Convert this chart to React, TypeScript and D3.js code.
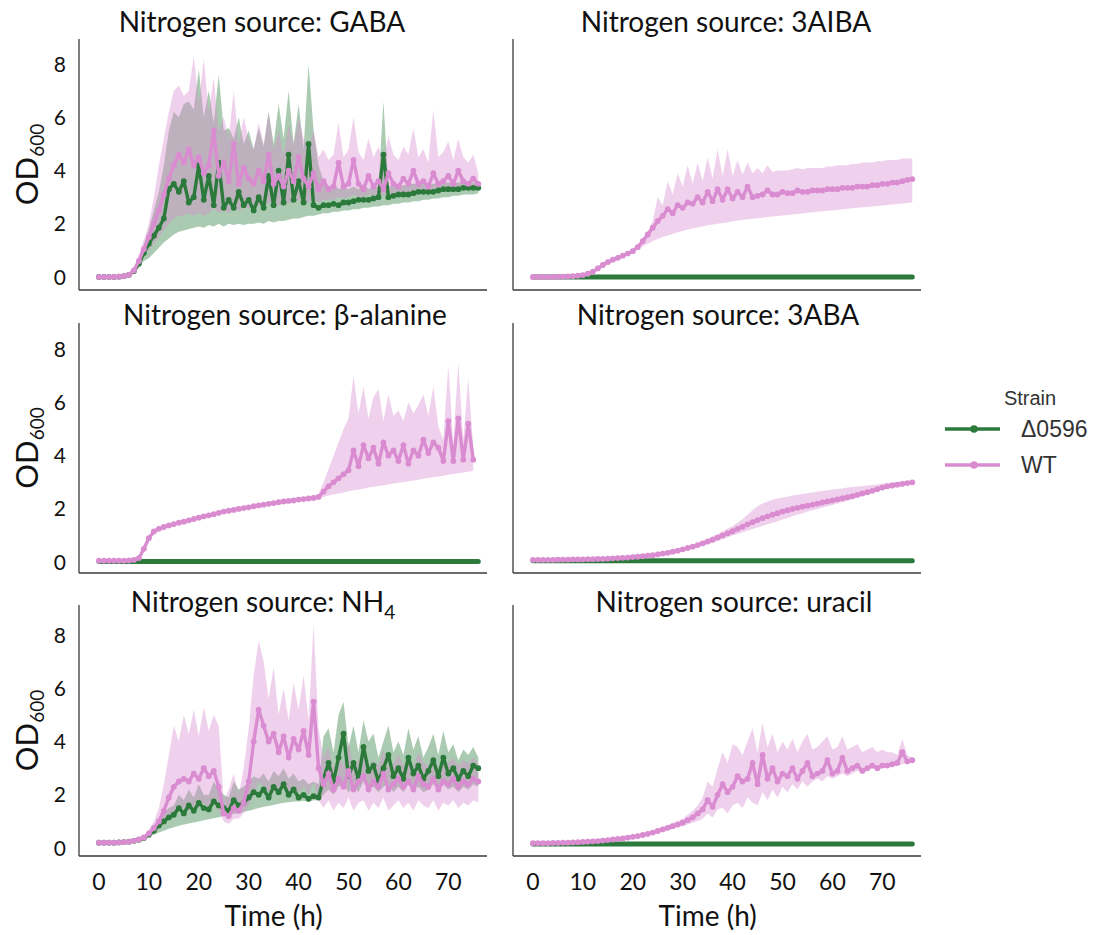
import React from "react";
import * as d3 from "d3";

// ---------- data ----------
const HOURS = [
  0, 1, 2, 3, 4, 5, 6, 7, 8, 9, 10, 11, 12, 13, 14, 15, 16, 17, 18, 19, 20, 21, 22, 23, 24, 25, 26, 27, 28, 29,
  30, 31, 32, 33, 34, 35, 36, 37, 38, 39, 40, 41, 42, 43, 44, 45, 46, 47, 48, 49, 50, 51, 52, 53, 54, 55, 56, 57,
  58, 59, 60, 61, 62, 63, 64, 65, 66, 67, 68, 69, 70, 71, 72, 73, 74, 75, 76,
];
const FLAT_HOURS = [0, 8, 16, 24, 32, 40, 48, 56, 64, 72, 76];

const STRAINS = ["Δ0596", "WT"];
const X_TICKS = [0, 10, 20, 30, 40, 50, 60, 70];
const Y_TICKS = [0, 2, 4, 6, 8];

// GABA
const GABA_WT_MEAN = [
  0.0, 0.0, 0.0, 0.0, 0.01, 0.03, 0.08, 0.25, 0.6, 1.05,
  1.5, 2.0, 2.5, 3.1, 3.7, 4.2, 4.6, 4.3, 4.8, 4.2,
  4.5, 3.9, 4.2, 5.5, 3.8, 4.3, 3.6, 5.0, 3.5, 4.1,
  3.7, 3.5, 4.0, 3.6, 4.6, 3.5, 3.8, 3.4, 4.0, 3.6,
  4.5, 3.7, 3.4, 3.9, 3.3, 3.6, 3.3, 3.4, 4.3, 3.4,
  3.5, 4.4, 3.5, 3.3, 3.8, 3.4, 3.6, 3.3, 3.9, 3.5,
  3.4, 3.7, 3.5, 4.0, 3.5, 3.6, 3.4, 3.9, 3.5, 3.6,
  3.8, 3.5, 4.0, 3.6, 3.5, 3.7, 3.5,
];
const GABA_WT_HI = [
  0.03, 0.03, 0.03, 0.03, 0.04, 0.06, 0.12, 0.35, 0.85, 1.4,
  2.0, 3.0, 4.2, 5.2, 6.2, 7.0, 7.2, 6.8, 7.0, 8.3,
  6.5, 8.2, 6.2, 7.5, 5.5, 6.0, 5.2, 7.0, 5.0, 6.0,
  5.2, 4.8, 5.8, 5.0, 6.2, 4.8, 5.5, 4.6, 5.7, 5.0,
  6.0, 5.2, 4.8, 5.5, 4.5, 4.8, 4.4, 4.6, 5.8, 4.5,
  4.8, 6.0, 4.7, 4.4, 5.2, 4.5, 4.9, 4.3, 5.3, 4.6,
  4.4, 4.9, 4.6, 5.6, 4.5, 4.8, 4.3, 6.3, 4.5, 4.7,
  5.1, 4.4, 5.2, 4.5, 4.3, 4.6, 3.9,
];
const GABA_WT_LO = [
  -0.03, -0.03, -0.03, -0.03, -0.02, 0.0, 0.05, 0.18, 0.45, 0.8,
  1.0, 1.25, 1.5, 1.75, 2.0, 2.2, 2.3, 2.3, 2.4, 2.3,
  2.4, 2.3, 2.4, 2.6, 2.4, 2.5, 2.4, 2.6, 2.5, 2.6,
  2.6, 2.6, 2.7, 2.6, 2.8, 2.7, 2.7, 2.7, 2.8, 2.8,
  2.9, 2.8, 2.8, 2.9, 2.8, 2.9, 2.9, 2.9, 3.0, 2.95,
  3.0, 3.1, 3.0, 3.0, 3.1, 3.05, 3.1, 3.05, 3.15, 3.1,
  3.1, 3.2, 3.15, 3.2, 3.2, 3.2, 3.2, 3.3, 3.25, 3.3,
  3.3, 3.3, 3.35, 3.35, 3.3, 3.4, 3.35,
];
const GABA_D_MEAN = [
  0.0, 0.0, 0.0, 0.0, 0.01, 0.03, 0.08, 0.22, 0.5, 0.9,
  1.25, 1.55, 1.85, 2.2, 3.3, 3.5, 3.2, 3.6, 2.8, 3.0,
  4.2, 2.9, 3.8, 2.7, 4.3, 2.6, 2.9, 2.6, 3.2, 2.7,
  2.9, 2.5, 3.0, 2.6, 3.8, 2.7, 4.0, 2.8, 4.6, 2.9,
  3.6, 2.8, 5.0, 2.7, 2.6, 2.7, 2.7, 2.75, 2.7, 2.8,
  2.8, 2.85, 2.9, 2.9, 2.9, 2.95, 3.0, 4.6, 3.0, 3.05,
  3.1, 3.1, 3.1, 3.15, 3.2, 3.2, 3.2, 3.2, 3.25, 3.3,
  3.3, 3.3, 3.3, 3.35, 3.35, 3.35, 3.35,
];
const GABA_D_HI = [
  0.03, 0.03, 0.03, 0.03, 0.04, 0.06, 0.12, 0.3, 0.7, 1.2,
  1.8, 2.5, 3.2, 4.2, 5.5, 6.2, 6.0, 6.5, 6.6, 6.3,
  7.8, 6.0, 7.0, 5.8, 7.6, 5.5, 5.6, 5.2, 6.0, 5.0,
  5.5, 4.8, 5.6, 4.9, 6.2, 5.0, 6.5, 5.2, 7.0, 5.0,
  6.5, 4.8, 8.0, 5.5, 4.2, 3.6, 3.4, 3.5, 3.3, 3.4,
  3.3, 3.4, 3.3, 3.5, 3.3, 3.4, 3.4, 6.6, 3.4, 3.45,
  3.45, 3.45, 3.45, 3.5, 3.5, 3.5, 3.5, 3.5, 3.5, 3.55,
  3.55, 3.55, 3.55, 3.55, 3.55, 3.55, 3.55,
];
const GABA_D_LO = [
  -0.03, -0.03, -0.03, -0.03, -0.02, 0.0, 0.04, 0.15, 0.35, 0.6,
  0.7, 0.9, 1.1, 1.3, 1.45, 1.6, 1.7, 1.75, 1.8, 1.85,
  1.9, 1.85, 1.95, 1.9, 2.0, 1.9, 2.0, 1.95, 2.0, 1.95,
  2.0, 2.0, 2.05, 2.0, 2.1, 2.05, 2.1, 2.1, 2.15, 2.2,
  2.2, 2.25, 2.3, 2.3, 2.35, 2.4, 2.4, 2.45, 2.45, 2.5,
  2.5, 2.55, 2.55, 2.6, 2.6, 2.65, 2.65, 2.7, 2.7, 2.75,
  2.75, 2.8, 2.8, 2.85, 2.85, 2.9, 2.9, 2.95, 2.95, 3.0,
  3.0, 3.05, 3.05, 3.1, 3.1, 3.1, 3.15,
];

// 3AIBA
const AIBA_WT_MEAN = [
  0.0, 0.0, 0.0, 0.0, 0.0, 0.01, 0.01, 0.02, 0.03, 0.05,
  0.07, 0.12, 0.2, 0.32, 0.45, 0.56, 0.65, 0.72, 0.8, 0.88,
  0.97, 1.12, 1.35, 1.6, 1.85, 2.1, 2.3, 2.55, 2.4, 2.7,
  2.6, 2.8, 2.75, 3.0, 2.8, 3.2, 2.85, 3.3, 2.9, 3.3,
  2.95, 3.2, 3.0, 3.4, 3.0, 3.05, 3.1, 3.25, 3.1, 3.1,
  3.2, 3.15, 3.15, 3.25, 3.2, 3.2, 3.25, 3.25, 3.25, 3.3,
  3.3, 3.3, 3.35, 3.35, 3.35, 3.4, 3.4, 3.4, 3.45, 3.45,
  3.5, 3.5, 3.55, 3.55, 3.6, 3.65, 3.68,
];
const AIBA_WT_HI = [
  0.02, 0.02, 0.02, 0.02, 0.02, 0.03, 0.03, 0.04, 0.05, 0.07,
  0.09, 0.14, 0.22, 0.34, 0.47, 0.58, 0.67, 0.74, 0.82, 0.9,
  0.99, 1.15, 1.4, 1.7, 2.1, 3.0, 2.7, 3.6, 3.1, 3.9,
  3.4, 4.2, 3.5, 4.3, 3.6, 4.5, 3.7, 4.8, 3.8, 4.8,
  3.8, 4.4, 3.85, 4.3, 3.9, 4.1, 3.9, 4.2, 3.95, 4.0,
  4.0, 4.0, 4.05, 4.1, 4.05, 4.1, 4.1, 4.1, 4.1, 4.15,
  4.15, 4.2, 4.2, 4.2, 4.25, 4.25, 4.3, 4.3, 4.3, 4.35,
  4.35, 4.4, 4.4, 4.4, 4.45, 4.45, 4.45,
];
const AIBA_WT_LO = [
  -0.02, -0.02, -0.02, -0.02, -0.02, -0.01, -0.01, 0.0, 0.01, 0.03,
  0.05, 0.1, 0.18, 0.3, 0.43, 0.54, 0.63, 0.7, 0.78, 0.86,
  0.95, 1.05, 1.15, 1.25, 1.35, 1.43, 1.5, 1.56, 1.62, 1.68,
  1.73, 1.78, 1.82, 1.86, 1.9, 1.94, 1.97, 2.0, 2.03, 2.06,
  2.09, 2.12, 2.14, 2.17, 2.19, 2.21, 2.23, 2.25, 2.27, 2.29,
  2.31, 2.33, 2.35, 2.37, 2.39, 2.41, 2.43, 2.45, 2.47, 2.49,
  2.5, 2.52, 2.54, 2.56, 2.58, 2.6, 2.62, 2.63, 2.65, 2.67,
  2.69, 2.71, 2.72, 2.74, 2.76, 2.78, 2.8,
];
const AIBA_D_MEAN = [0.0, 0.0, 0.0, 0.0, 0.0, 0.0, 0.0, 0.0, 0.0, 0.0, 0.0];

// beta-alanine
const BALA_WT_MEAN = [
  0.05, 0.05, 0.05, 0.05, 0.05, 0.05, 0.06, 0.08, 0.15, 0.5,
  0.9, 1.15, 1.25, 1.32, 1.38, 1.43, 1.48, 1.52, 1.57, 1.62,
  1.67, 1.72, 1.76, 1.8, 1.85, 1.9, 1.93, 1.96, 2.0, 2.03,
  2.06, 2.1, 2.13, 2.16, 2.19, 2.22, 2.25, 2.28, 2.3, 2.32,
  2.35, 2.37, 2.39, 2.41, 2.45, 2.65, 2.85, 3.0, 3.15, 3.3,
  3.45, 4.2, 3.6, 4.4, 3.9, 4.3, 3.7, 4.5, 4.0, 4.2,
  3.8, 4.4, 3.7, 4.2, 4.0, 4.6, 4.1, 4.5, 4.3, 3.8,
  5.3, 3.8, 5.4, 3.85, 5.2, 3.85,
];
const BALA_WT_HI = [
  0.08, 0.08, 0.08, 0.08, 0.08, 0.08, 0.09, 0.11, 0.18, 0.55,
  0.95, 1.2, 1.3, 1.37, 1.43, 1.48, 1.53, 1.57, 1.62, 1.67,
  1.72, 1.77, 1.81, 1.85, 1.9, 1.95, 1.98, 2.01, 2.05, 2.08,
  2.11, 2.15, 2.18, 2.21, 2.24, 2.27, 2.3, 2.33, 2.35, 2.37,
  2.4, 2.42, 2.44, 2.46, 2.55, 3.0, 3.5, 4.0, 4.5, 5.0,
  5.4, 7.0, 5.6, 6.6, 5.4, 6.2, 6.5, 5.3, 6.3, 5.5,
  5.7, 5.3, 6.0, 5.6, 5.9, 6.3, 5.5, 6.6, 5.1, 4.6,
  7.4, 4.5, 7.5, 4.6, 6.9, 4.3,
];
const BALA_WT_LO = [
  0.02, 0.02, 0.02, 0.02, 0.02, 0.02, 0.03, 0.05, 0.12, 0.45,
  0.85, 1.1, 1.2, 1.27, 1.33, 1.38, 1.43, 1.47, 1.52, 1.57,
  1.62, 1.67, 1.71, 1.75, 1.8, 1.85, 1.88, 1.91, 1.95, 1.98,
  2.01, 2.05, 2.08, 2.11, 2.14, 2.17, 2.2, 2.23, 2.25, 2.27,
  2.3, 2.32, 2.34, 2.36, 2.4, 2.45, 2.5, 2.54, 2.58, 2.62,
  2.66, 2.7, 2.73, 2.76, 2.8, 2.83, 2.86, 2.89, 2.92, 2.95,
  2.98, 3.01, 3.04, 3.07, 3.1, 3.13, 3.16, 3.19, 3.22, 3.25,
  3.28, 3.31, 3.34, 3.37, 3.4, 3.43,
];
const BALA_D_MEAN = [0.02, 0.02, 0.02, 0.02, 0.02, 0.02, 0.02, 0.02, 0.02, 0.02, 0.02];

// 3ABA
const ABA_WT_MEAN = [
  0.08, 0.08, 0.08, 0.08, 0.08, 0.09, 0.09, 0.09, 0.1, 0.1, 0.1,
  0.11, 0.11, 0.12, 0.12, 0.13, 0.14, 0.15, 0.16, 0.17, 0.19,
  0.2, 0.22, 0.24, 0.26, 0.29, 0.32, 0.35, 0.39, 0.43, 0.48,
  0.53, 0.58, 0.64, 0.7, 0.77, 0.84, 0.92, 1.0, 1.08, 1.16,
  1.25, 1.33, 1.42, 1.5, 1.58, 1.65, 1.72, 1.78, 1.84, 1.9,
  1.95, 2.0, 2.04, 2.08, 2.12, 2.16, 2.2, 2.24, 2.28, 2.32,
  2.36, 2.4, 2.44, 2.48, 2.53, 2.58, 2.63, 2.68, 2.74, 2.8,
  2.85, 2.88, 2.91, 2.94, 2.97, 3.0,
];
const ABA_WT_HI = [
  0.1, 0.1, 0.1, 0.1, 0.1, 0.11, 0.11, 0.11, 0.12, 0.12, 0.12,
  0.13, 0.13, 0.14, 0.14, 0.15, 0.16, 0.17, 0.18, 0.19, 0.21,
  0.22, 0.24, 0.26, 0.29, 0.32, 0.35, 0.39, 0.43, 0.48, 0.53,
  0.59, 0.65, 0.72, 0.8, 0.88, 0.97, 1.06, 1.16, 1.26, 1.36,
  1.48, 1.62, 1.78, 1.95, 2.1, 2.2, 2.28, 2.34, 2.39, 2.43,
  2.46, 2.5, 2.53, 2.56, 2.59, 2.62, 2.64, 2.67, 2.7, 2.72,
  2.75, 2.77, 2.8, 2.82, 2.84, 2.86, 2.88, 2.9, 2.92, 2.95,
  2.97, 2.99, 3.01, 3.03, 3.05, 3.07,
];
const ABA_WT_LO = [
  0.06, 0.06, 0.06, 0.06, 0.06, 0.07, 0.07, 0.07, 0.08, 0.08, 0.08,
  0.09, 0.09, 0.1, 0.1, 0.11, 0.12, 0.13, 0.14, 0.15, 0.17,
  0.18, 0.2, 0.22, 0.24, 0.26, 0.29, 0.32, 0.35, 0.39, 0.43,
  0.47, 0.52, 0.57, 0.62, 0.67, 0.73, 0.79, 0.86, 0.93, 1.0,
  1.06, 1.12, 1.18, 1.24, 1.3, 1.36, 1.42, 1.48, 1.54, 1.6,
  1.66, 1.72, 1.78, 1.84, 1.9, 1.95, 2.0, 2.05, 2.1, 2.15,
  2.2, 2.25, 2.3, 2.36, 2.42, 2.48, 2.54, 2.6, 2.66, 2.72,
  2.77, 2.81, 2.85, 2.89, 2.92, 2.95,
];
const ABA_D_MEAN = [0.05, 0.05, 0.05, 0.05, 0.05, 0.05, 0.05, 0.05, 0.05, 0.05, 0.05];

// NH4
const NH4_WT_MEAN = [
  0.2, 0.2, 0.2, 0.2, 0.21, 0.22, 0.24, 0.27, 0.32, 0.4,
  0.55, 0.75, 1.0, 1.4, 1.9, 2.3, 2.5, 2.6, 2.5, 2.8,
  2.6, 3.0, 2.7, 2.9, 2.3, 1.3, 1.2, 1.5, 1.4, 1.7,
  2.5, 4.0, 5.2, 4.6, 4.0, 4.3, 3.6, 4.2, 3.4, 4.1,
  3.7, 4.4, 3.5, 5.5, 3.0, 2.4, 2.8, 2.2, 2.6, 2.3,
  2.9, 2.2, 2.5, 2.7, 2.2, 2.5, 2.3, 2.8, 2.2, 2.4,
  2.6, 2.3, 2.5, 2.2, 2.7, 2.4, 2.3, 2.6, 2.2, 2.5,
  2.4, 2.6, 2.3, 2.5, 2.4, 2.6, 2.5,
];
const NH4_WT_HI = [
  0.23, 0.23, 0.23, 0.23, 0.24, 0.25, 0.27, 0.3, 0.36, 0.46,
  0.7, 1.0, 1.5, 2.4, 3.5, 4.6, 4.0, 5.0, 4.3, 5.2,
  4.2, 5.3, 4.4, 5.0, 4.6, 1.8, 2.2, 2.8, 2.0, 3.0,
  4.5, 6.5, 7.8, 7.0, 5.6, 6.8, 5.0, 6.0, 4.8, 6.2,
  5.2, 6.5, 4.8, 8.4, 4.5, 3.4, 3.8, 3.0, 3.5, 3.1,
  4.0, 3.0, 3.3, 3.6, 3.0, 3.3, 3.1, 3.7, 3.0, 3.2,
  3.5, 3.1, 3.3, 3.0, 3.6, 3.2, 3.1, 3.5, 3.0, 3.3,
  3.2, 3.4, 3.1, 3.3, 3.2, 3.4, 3.2,
];
const NH4_WT_LO = [
  0.17, 0.17, 0.17, 0.17, 0.18, 0.19, 0.21, 0.24, 0.28, 0.35,
  0.45, 0.6, 0.75, 0.9, 1.1, 1.3, 1.4, 1.5, 1.4, 1.6,
  1.5, 1.7, 1.5, 1.7, 1.4, 1.0, 0.9, 1.1, 1.1, 1.3,
  1.6, 2.0, 2.5, 2.3, 2.1, 2.2, 2.0, 2.3, 2.0, 2.2,
  2.1, 2.3, 2.0, 2.5, 1.8, 1.5, 1.8, 1.4, 1.7, 1.5,
  1.9, 1.4, 1.7, 1.8, 1.4, 1.7, 1.5, 1.9, 1.4, 1.6,
  1.8, 1.5, 1.7, 1.4, 1.8, 1.6, 1.5, 1.8, 1.4, 1.7,
  1.6, 1.8, 1.5, 1.7, 1.6, 1.8, 1.7,
];
const NH4_D_MEAN = [
  0.2, 0.2, 0.2, 0.2, 0.21, 0.22, 0.24, 0.27, 0.31, 0.38,
  0.5, 0.65, 0.85, 1.0, 1.15, 1.25, 1.5, 1.3, 1.6, 1.4,
  1.7, 1.5, 1.45, 1.75, 1.6, 1.5, 1.4, 1.8, 1.6, 1.7,
  1.9, 2.1, 2.0, 2.2, 1.9, 2.3, 2.1, 2.4, 2.0, 2.2,
  1.9, 2.0, 1.85, 1.95, 1.9, 2.6, 3.2, 2.5, 3.4, 4.3,
  2.7, 3.2, 2.6, 3.8, 2.9, 3.1, 2.5, 3.0, 3.5, 2.7,
  3.0, 2.6, 3.4, 2.8, 3.1, 2.6, 2.9, 3.3, 2.7, 3.4,
  2.8, 3.0, 2.6, 2.9, 2.7, 3.1, 3.0,
];
const NH4_D_HI = [
  0.23, 0.23, 0.23, 0.23, 0.24, 0.25, 0.27, 0.3, 0.35, 0.43,
  0.6, 0.8, 1.05, 1.3, 1.5, 1.6, 2.0, 1.8, 2.2, 1.9,
  2.4, 2.0, 2.0, 2.5, 2.2, 2.0, 1.9, 2.5, 2.2, 2.3,
  2.5, 2.7, 2.6, 2.8, 2.5, 2.9, 2.7, 3.0, 2.6, 2.8,
  2.5, 2.6, 2.4, 2.5, 2.4, 4.2, 4.5, 3.6, 5.0, 5.5,
  3.8, 4.6, 3.6, 4.8, 4.0, 4.3, 3.4, 4.0, 4.6, 3.6,
  4.0, 3.5, 4.5, 3.7, 4.2, 3.4, 3.8, 4.3, 3.5, 4.4,
  3.6, 3.9, 3.3, 3.7, 3.5, 3.8, 3.4,
];
const NH4_D_LO = [
  0.17, 0.17, 0.17, 0.17, 0.18, 0.19, 0.21, 0.24, 0.27, 0.33,
  0.42, 0.5, 0.58, 0.65, 0.72, 0.78, 0.84, 0.88, 0.92, 0.96,
  1.0, 1.04, 1.08, 1.12, 1.16, 1.2, 1.24, 1.28, 1.32, 1.36,
  1.4, 1.45, 1.5, 1.55, 1.58, 1.62, 1.66, 1.7, 1.72, 1.75,
  1.75, 1.78, 1.75, 1.8, 1.8, 2.0, 2.2, 2.0, 2.3, 2.4,
  2.1, 2.3, 2.1, 2.5, 2.2, 2.3, 2.1, 2.3, 2.4, 2.1,
  2.3, 2.1, 2.4, 2.2, 2.3, 2.1, 2.2, 2.4, 2.2, 2.4,
  2.2, 2.3, 2.1, 2.3, 2.2, 2.4, 2.3,
];

// uracil
const URA_WT_MEAN = [
  0.18, 0.18, 0.18, 0.18, 0.19, 0.19, 0.2, 0.2, 0.21, 0.22, 0.23,
  0.24, 0.25, 0.26, 0.28, 0.3, 0.32, 0.34, 0.36, 0.39, 0.42,
  0.45, 0.49, 0.53, 0.58, 0.64, 0.7, 0.76, 0.82, 0.88, 0.95,
  1.05, 1.15, 1.3, 1.45, 1.8, 1.55, 2.0, 2.4, 2.1, 2.3,
  2.7, 2.5, 2.6, 3.2, 2.4, 3.5, 2.6, 3.0, 2.5, 2.8,
  2.7, 3.0, 2.6, 2.9, 3.2, 2.7, 2.8, 2.9, 3.3, 2.8,
  2.9, 3.4, 2.9, 3.0, 3.1, 2.9, 3.0, 3.1, 3.0, 3.1,
  3.1, 3.15, 3.2, 3.6, 3.25, 3.3,
];
const URA_WT_HI = [
  0.21, 0.21, 0.21, 0.21, 0.22, 0.22, 0.23, 0.23, 0.24, 0.25, 0.26,
  0.27, 0.28, 0.29, 0.31, 0.33, 0.35, 0.37, 0.39, 0.42, 0.46,
  0.5, 0.55, 0.6, 0.66, 0.73, 0.8, 0.87, 0.95, 1.02, 1.1,
  1.25, 1.4, 1.6, 1.9, 2.5, 2.3, 3.0, 3.6, 3.2, 3.9,
  3.8, 3.5, 4.0, 4.5, 3.6, 4.7, 3.8, 4.3, 3.6, 4.0,
  3.7, 4.1, 3.6, 4.0, 4.3, 3.7, 3.8, 4.0, 4.2, 3.7,
  3.8, 4.2, 3.7, 3.8, 3.9, 3.6, 3.7, 3.8, 3.6, 3.7,
  3.6, 3.6, 3.5, 4.1, 3.5, 3.4,
];
const URA_WT_LO = [
  0.15, 0.15, 0.15, 0.15, 0.16, 0.16, 0.17, 0.17, 0.18, 0.19, 0.2,
  0.21, 0.22, 0.23, 0.25, 0.27, 0.29, 0.31, 0.33, 0.36, 0.38,
  0.41, 0.44, 0.48, 0.52, 0.57, 0.62, 0.67, 0.72, 0.77, 0.82,
  0.88, 0.95, 1.02, 1.1, 1.3, 1.15, 1.45, 1.5, 1.3, 1.6,
  1.7, 1.5, 1.9, 1.7, 1.6, 2.1, 1.8, 2.2, 1.9, 2.3,
  2.1, 2.4, 2.2, 2.5, 2.3, 2.5, 2.6, 2.5, 2.7, 2.6,
  2.7, 2.8, 2.7, 2.8, 2.9, 2.85, 2.9, 3.0, 2.95, 3.0,
  3.05, 3.1, 3.1, 3.15, 3.2, 3.25,
];
const URA_D_MEAN = [0.15, 0.15, 0.15, 0.15, 0.15, 0.15, 0.15, 0.15, 0.15, 0.15, 0.15];

// ---------- style / layout ----------
const COLORS: Record<string, string> = { "Δ0596": "#2b7a3b", WT: "#da8cd1" };
const FONT = "Lato, 'Open Sans', sans-serif";
const COLS = [
  { x0: 79, x1: 487 },
  { x0: 513, x1: 921 },
];
const ROWS = [
  { y0: 39, y1: 290, yMin: -0.49, titleY: 32 },
  { y0: 323, y1: 573, yMin: -0.41, titleY: 325 },
  { y0: 605, y1: 856, yMin: -0.3, titleY: 612 },
];
const PX_PER_UNIT = 26.6;
const X_DOMAIN = [-4, 77.75];

type Series = { strain: string; hours: number[]; mean: number[]; lo?: number[]; hi?: number[] };
type PanelDef = { name: string; sub?: string; row: number; col: number; titleX: number; series: Series[] };

const PANELS: PanelDef[] = [
  {
    name: "GABA", row: 0, col: 0, titleX: 262,
    series: [
      { strain: "Δ0596", hours: HOURS, mean: GABA_D_MEAN, lo: GABA_D_LO, hi: GABA_D_HI },
      { strain: "WT", hours: HOURS, mean: GABA_WT_MEAN, lo: GABA_WT_LO, hi: GABA_WT_HI },
    ],
  },
  {
    name: "3AIBA", row: 0, col: 1, titleX: 726,
    series: [
      { strain: "Δ0596", hours: FLAT_HOURS, mean: AIBA_D_MEAN },
      { strain: "WT", hours: HOURS, mean: AIBA_WT_MEAN, lo: AIBA_WT_LO, hi: AIBA_WT_HI },
    ],
  },
  {
    name: "β-alanine", row: 1, col: 0, titleX: 285,
    series: [
      { strain: "Δ0596", hours: FLAT_HOURS, mean: BALA_D_MEAN },
      { strain: "WT", hours: HOURS, mean: BALA_WT_MEAN, lo: BALA_WT_LO, hi: BALA_WT_HI },
    ],
  },
  {
    name: "3ABA", row: 1, col: 1, titleX: 718,
    series: [
      { strain: "Δ0596", hours: FLAT_HOURS, mean: ABA_D_MEAN },
      { strain: "WT", hours: HOURS, mean: ABA_WT_MEAN, lo: ABA_WT_LO, hi: ABA_WT_HI },
    ],
  },
  {
    name: "NH", sub: "4", row: 2, col: 0, titleX: 263,
    series: [
      { strain: "Δ0596", hours: HOURS, mean: NH4_D_MEAN, lo: NH4_D_LO, hi: NH4_D_HI },
      { strain: "WT", hours: HOURS, mean: NH4_WT_MEAN, lo: NH4_WT_LO, hi: NH4_WT_HI },
    ],
  },
  {
    name: "uracil", row: 2, col: 1, titleX: 734,
    series: [
      { strain: "Δ0596", hours: FLAT_HOURS, mean: URA_D_MEAN },
      { strain: "WT", hours: HOURS, mean: URA_WT_MEAN, lo: URA_WT_LO, hi: URA_WT_HI },
    ],
  },
];

function Panel({ p }: { p: PanelDef }) {
  const c = COLS[p.col];
  const r = ROWS[p.row];
  const x = d3.scaleLinear().domain(X_DOMAIN).range([c.x0, c.x1]);
  const yMax = r.yMin + (r.y1 - r.y0) / PX_PER_UNIT;
  const y = d3.scaleLinear().domain([r.yMin, yMax]).range([r.y1, r.y0]);

  const prepared = p.series.map((s) => {
    const idx = s.mean.map((_, i) => i);
    const line = d3
      .line<number>()
      .x((i) => x(s.hours[i]))
      .y((i) => y(s.mean[i]));
    const area =
      s.lo && s.hi
        ? d3
            .area<number>()
            .x((i) => x(s.hours[i]))
            .y0((i) => y(s.lo![i]))
            .y1((i) => y(s.hi![i]))
        : null;
    return { s, idx, line, area, color: COLORS[s.strain], flat: !s.lo };
  });

  return (
    <g>
      {/* bands first (matplotlib zorder), then lines */}
      {prepared.map(({ s, idx, area, color }) =>
        area ? <path key={"b" + s.strain} d={area(idx) || ""} fill={color} fillOpacity={0.4} stroke="none" /> : null
      )}
      {prepared.map(({ s, idx, line, color, flat }) => (
        <g key={"l" + s.strain}>
          <path
            d={line(idx) || ""}
            fill="none"
            stroke={color}
            strokeWidth={flat ? 5 : 3.4}
            strokeLinejoin="round"
            strokeLinecap="round"
          />
          {!flat &&
            idx.map((i) => <circle key={i} cx={x(s.hours[i])} cy={y(s.mean[i])} r={2.9} fill={color} />)}
        </g>
      ))}
      {/* axes */}
      <line x1={c.x0} x2={c.x0} y1={r.y0} y2={r.y1} stroke="#3a3a3a" strokeWidth={1.3} />
      <line x1={c.x0} x2={c.x1} y1={r.y1} y2={r.y1} stroke="#3a3a3a" strokeWidth={1.3} />
      {p.col === 0 &&
        Y_TICKS.map((t) => (
          <text key={t} x={66} y={y(t)} dy="0.36em" textAnchor="end" fontSize={21} fontFamily={FONT} fill="#111">
            {t}
          </text>
        ))}
      {p.col === 0 && (
        <text
          transform={`translate(38, ${(r.y0 + r.y1) / 2}) rotate(-90)`}
          textAnchor="middle"
          fontSize={31}
          fontFamily={FONT}
          fill="#111"
        >
          OD
          <tspan fontSize={19} dy={6}>
            600
          </tspan>
        </text>
      )}
      {p.row === 2 &&
        X_TICKS.map((t) => (
          <text key={t} x={x(t)} y={890} textAnchor="middle" fontSize={23} fontFamily={FONT} fill="#111">
            {t}
          </text>
        ))}
      {p.row === 2 && (
        <text x={x(35)} y={926} textAnchor="middle" fontSize={28} fontFamily={FONT} fill="#111">
          Time (h)
        </text>
      )}
      <text x={p.titleX} y={r.titleY} textAnchor="middle" fontSize={28} fontFamily={FONT} fill="#111">
        {"Nitrogen source: " + p.name}
        {p.sub && (
          <tspan fontSize={19} dy={7}>
            {p.sub}
          </tspan>
        )}
      </text>
    </g>
  );
}

function Legend() {
  const ys = d3.scalePoint<string>().domain(STRAINS).range([429, 465]);
  return (
    <g fontFamily="'Liberation Sans', Arial, sans-serif">
      <text x={1030} y={405} textAnchor="middle" fontSize={20} fill="#333">
        Strain
      </text>
      {STRAINS.map((s) => (
        <g key={s}>
          <line x1={945} x2={1000} y1={ys(s)} y2={ys(s)} stroke={COLORS[s]} strokeWidth={3.5} />
          <circle cx={974} cy={ys(s)} r={3.8} fill={COLORS[s]} />
          <text x={1021} y={(ys(s) as number) + 8} fontSize={23} fill="#333">
            {s}
          </text>
        </g>
      ))}
    </g>
  );
}

export default function App() {
  return (
    <div style={{ position: "absolute", left: 0, top: 0 }}>
      <svg width={1104} height={935} viewBox="0 0 1104 935" style={{ display: "block", background: "#fff" }}>
        {PANELS.map((p) => (
          <Panel key={p.name} p={p} />
        ))}
        <Legend />
      </svg>
    </div>
  );
}
